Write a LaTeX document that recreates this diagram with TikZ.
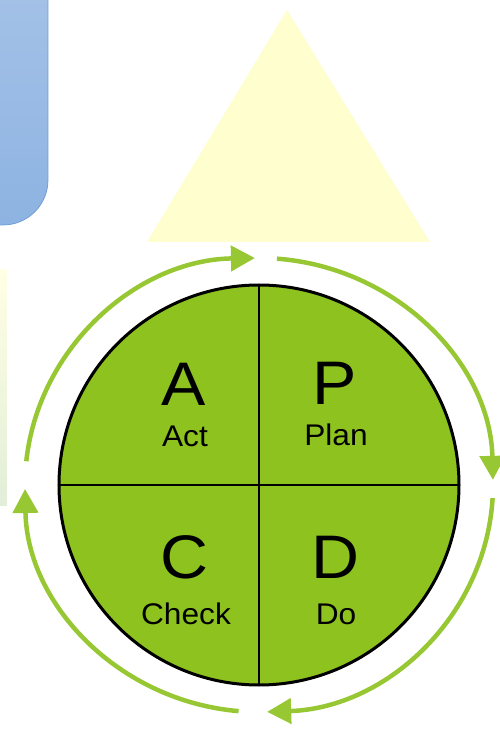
\documentclass[tikz,border=0pt]{standalone}
\usepackage{fontspec}
\setmainfont{Liberation Sans}
\usetikzlibrary{arrows.meta,positioning}

\definecolor{PdcaGreen}{RGB}{141,194,31}
\definecolor{RingGreen}{RGB}{152,199,52}
\definecolor{BoxBlueTop}{RGB}{168,196,232}
\definecolor{BoxBlueBottom}{RGB}{141,179,226}
\definecolor{BoxBlueEdge}{RGB}{107,155,214}
\definecolor{PaleYellow}{RGB}{254,254,206}
\definecolor{StripTop}{RGB}{255,255,228}
\definecolor{StripBottom}{RGB}{226,238,216}

\begin{document}
\begin{tikzpicture}[x=0.02cm, y=0.02cm]
			\pgfmathsetmacro{\CircleRadius}{200}
			\pgfmathsetmacro{\RingX}{234}
			\pgfmathsetmacro{\RingY}{227}
			\pgfmathsetmacro{\LeftCol}{-75}
			\pgfmathsetmacro{\RightCol}{76}
			\coordinate(CenterPos) at (0,0);
			\useasboundingbox (-259,-245) rectangle (241,485);
			\clip (-259,-245) rectangle (241,485);
			
			% BACKGROUND
			\draw[draw=BoxBlueEdge, top color=BoxBlueTop, bottom color=BoxBlueBottom, rounded corners=0.9cm] (-320,260) rectangle (-211,540);
			\fill[PaleYellow] (28,475) -- (171,243) -- (-112,243) -- cycle;
			\shade[top color=StripTop, bottom color=StripBottom] (-259,215) rectangle (-252,-20);
			
			% CIRCLE
			\draw[line width=0.06cm, fill=PdcaGreen] (CenterPos) circle (\CircleRadius);
			\draw[line width=0.05cm] (CenterPos) ++(0,\CircleRadius) -- ++(0,-2*\CircleRadius);
			\draw[line width=0.05cm] (CenterPos) ++(-\CircleRadius,0) -- ++(2*\CircleRadius,0);
			
			% LETTERS
			\node[xscale=1.08, transform shape] (ALetter) at (\LeftCol,101) {\fontsize{35}{35}\selectfont A};
			\node[xscale=1.08, transform shape] (PLetter) at (\RightCol,102) {\fontsize{35}{35}\selectfont P};
			\node[xscale=1.08, transform shape] (CLetter) at (\LeftCol,-72) {\fontsize{35}{35}\selectfont C};
			\node[xscale=1.08, transform shape] (DLetter) at (\RightCol,-72) {\fontsize{35}{35}\selectfont D};
			\node[xscale=1.06, transform shape] (ActText) at (-74,49) {\fontsize{17}{17}\selectfont Act};
			\node[xscale=1.06, transform shape] (PlanText) at (77,50) {\fontsize{17}{17}\selectfont Plan};
			\node[xscale=1.06, transform shape] (CheckText) at (-73,-129) {\fontsize{17}{17}\selectfont Check};
			\node[xscale=1.06, transform shape] (DoText) at (77,-129) {\fontsize{17}{17}\selectfont Do};
			
			% RING
			\draw[RingGreen, line width=0.09cm, -{Triangle[length=0.48cm, width=0.5cm]}] (CenterPos) ++(174:{\RingX} and {\RingY}) arc[start angle=174, end angle=91, x radius=\RingX, y radius=\RingY];
			\draw[RingGreen, line width=0.09cm, -{Triangle[length=0.48cm, width=0.5cm]}] (CenterPos) ++(85.6:{\RingX} and {\RingY}) arc[start angle=85.6, end angle=1.3, x radius=\RingX, y radius=\RingY];
			\draw[RingGreen, line width=0.09cm, -{Triangle[length=0.48cm, width=0.5cm]}] (CenterPos) ++(-3.3:{\RingX} and {\RingY}) arc[start angle=-3.3, end angle=-88, x radius=\RingX, y radius=\RingY];
			\draw[RingGreen, line width=0.09cm, -{Triangle[length=0.48cm, width=0.5cm]}] (CenterPos) ++(-95:{\RingX} and {\RingY}) arc[start angle=-95, end angle=-179, x radius=\RingX, y radius=\RingY];
		\end{tikzpicture}
\end{document}
